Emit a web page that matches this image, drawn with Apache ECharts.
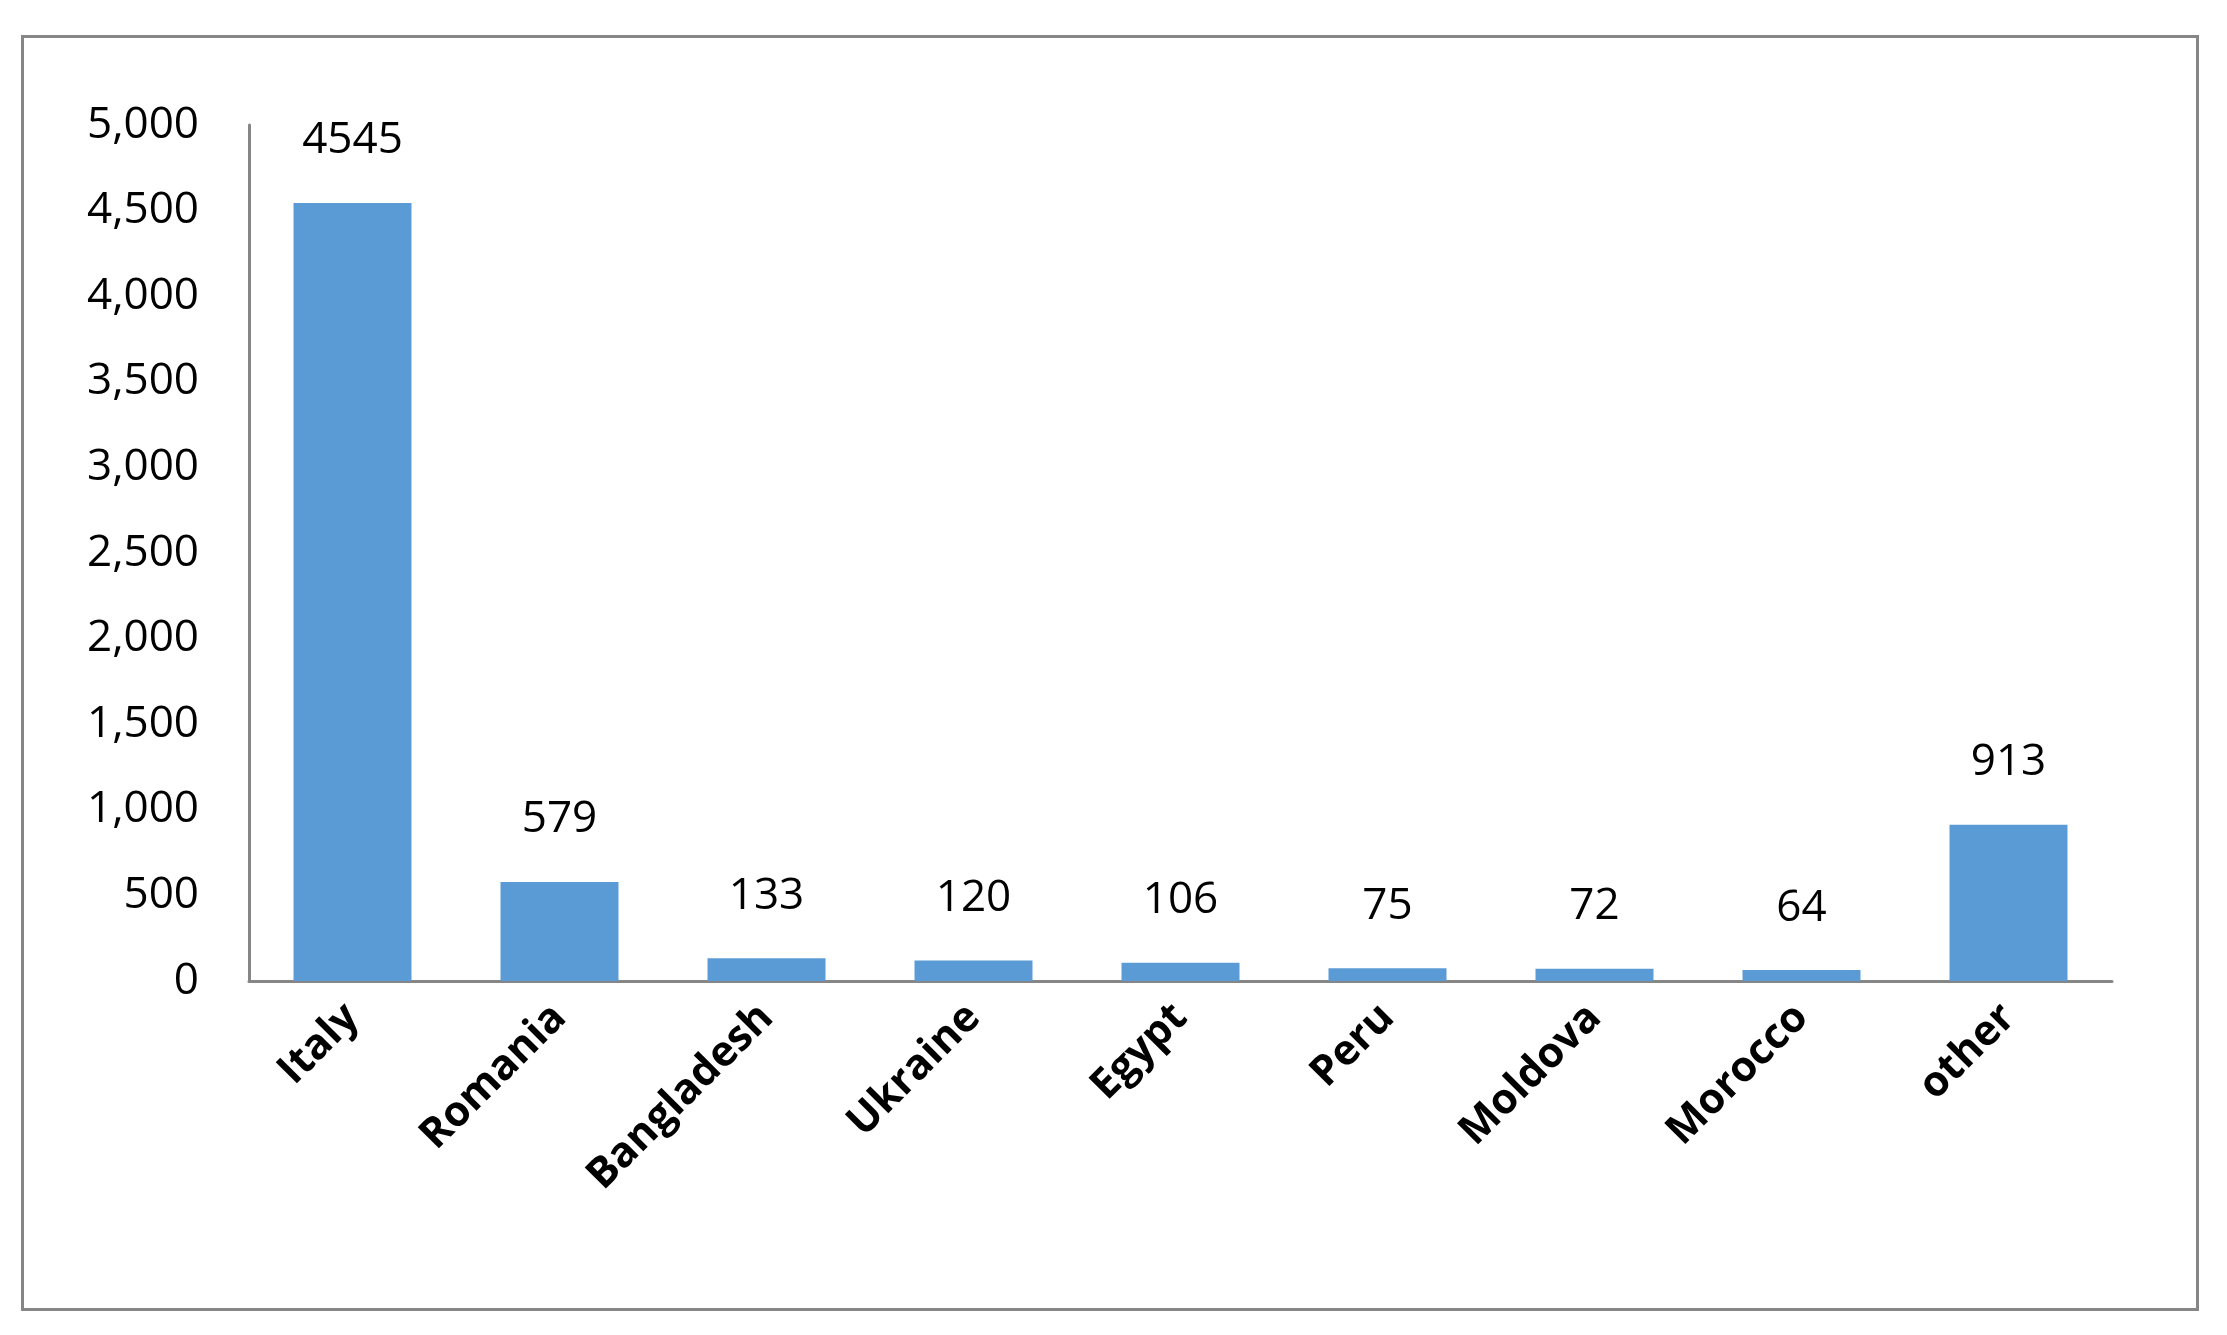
<!DOCTYPE html>
<html>
<head>
<meta charset="UTF-8">
<script src="https://cdn.jsdelivr.net/npm/echarts@6/dist/echarts.min.js"></script>
<style>
html,body{margin:0;padding:0;background:#fff;}
#frame{position:absolute;left:21px;top:35px;width:2178px;height:1276px;border:3px solid #868686;box-sizing:border-box;}
#main{position:absolute;left:0;top:0;width:2227px;height:1335px;}
</style>
</head>
<body>
<div id="frame"></div>
<div id="main"></div>
<script>
// countries and counts
let categories = ['Italy', 'Romania', 'Bangladesh', 'Ukraine', 'Egypt', 'Peru', 'Moldova', 'Morocco', 'other'];
let values = [4545, 579, 133, 120, 106, 75, 72, 64, 913];

let myChart = echarts.init(document.getElementById('main'));
let option = {
    animation: false,
    grid: {left: 249, right: 115, top: 125, bottom: 354},
    xAxis: {
        type: 'category',
        data: categories,
        axisLine: {lineStyle: {color: '#868686', width: 3}},
        axisTick: {show: false},
        axisLabel: {
            rotate: 45, margin: 30, color: '#000',
            fontFamily: 'Open Sans', fontSize: 42, fontWeight: 'bold'
        }
    },
    yAxis: {
        type: 'value',
        min: 0, max: 5000, interval: 500,
        axisLine: {show: true, lineStyle: {color: '#868686', width: 3}},
        axisTick: {show: false},
        splitLine: {show: false},
        axisLabel: {color: '#000', fontFamily: 'Open Sans', fontSize: 44, margin: 50}
    },
    series: [{
        type: 'bar',
        data: values,
        barWidth: '57%',
        itemStyle: {color: '#5b9bd5'},
        label: {
            show: true, position: 'top', distance: 40,
            color: '#000', fontFamily: 'Open Sans', fontSize: 44
        }
    }]
};
myChart.setOption(option, true);
</script>
</body>
</html>
